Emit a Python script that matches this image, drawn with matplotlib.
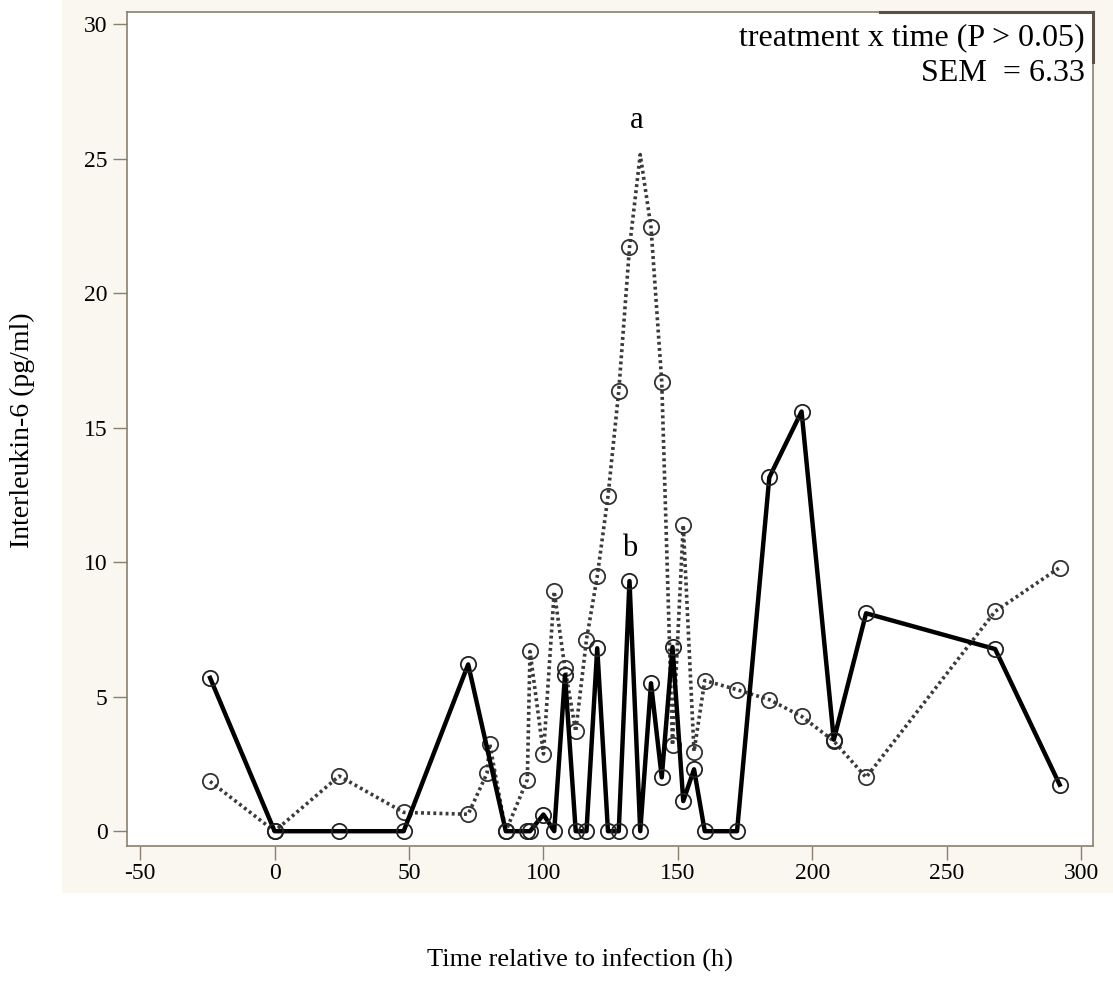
import matplotlib
matplotlib.use('Agg')
import matplotlib.pyplot as plt
from matplotlib.patches import Rectangle
from matplotlib.lines import Line2D

# ---- data ----
time_solid = [-24, 0, 24, 48, 72, 86, 94, 95, 100, 104, 108, 112, 116, 120, 124,
              128, 132, 136, 140, 144, 148, 152, 156, 160, 172, 184, 196, 208, 220, 268, 292]
il6_solid = [5.7, 0, 0, 0, 6.2, 0, 0, 0, 0.62, 0, 5.8, 0, 0, 6.8, 0,
             0, 9.3, 0, 5.5, 2.0, 6.85, 1.12, 2.3, 0, 0, 13.15, 15.6, 3.4, 8.1, 6.77, 1.73]

time_dotted = [-24, 0, 24, 48, 72, 79, 80, 86, 94, 95, 100, 104, 108, 112, 116, 120, 124,
               128, 132, 136, 140, 144, 148, 152, 156, 160, 172, 184, 196, 208, 220, 268, 292]
il6_dotted = [1.85, 0, 2.05, 0.7, 0.63, 2.15, 3.25, 0, 1.92, 6.68, 2.87, 8.91, 6.05, 3.71, 7.12, 9.47, 12.45,
              16.35, 21.7, 25.15, 22.45, 16.7, 3.2, 11.38, 2.96, 5.6, 5.26, 4.89, 4.27, 3.35, 2.0, 8.17, 9.8]

x_ticks = [-50, 0, 50, 100, 150, 200, 250, 300]
y_ticks = [0, 5, 10, 15, 20, 25, 30]
annot_lines = ["treatment x time (P > 0.05)", "SEM  = 6.33"]
letters = [("a", 134.7, 26.4), ("b", 132, 10.5)]

W, H = 1113, 1002
fig = plt.figure(figsize=(W / 100, H / 100), dpi=100)
fig.patch.set_facecolor('white')

serif = ['Liberation Serif', 'DejaVu Serif']
beige = '#faf7f0'
frame_col = '#8a8070'

# beige panel behind the plot
fig.patches.append(Rectangle((62 / W, 1 - 893 / H), 1 - 62 / W, 893 / H,
                             transform=fig.transFigure, facecolor=beige,
                             edgecolor='none', zorder=0))

L, R, T, B = 127, 1093, 12, 846
ax = fig.add_axes([L / W, 1 - B / H, (R - L) / W, (B - T) / H])
ax.set_facecolor('white')
ax.set_zorder(1)

ax.set_xlim(-54.9, 304.4)
ax.set_ylim(-0.55, 30.45)

mark_dotted = [i for i in range(len(time_dotted)) if i != 19]

ax.plot(time_dotted, il6_dotted, linestyle=(0, (0.8, 0.9)), color='#3a3a3a',
        linewidth=2.6, marker='o', markersize=11, markerfacecolor='none',
        markeredgecolor='#333333', markeredgewidth=1.3, markevery=mark_dotted, zorder=2)
ax.plot(time_solid, il6_solid, linestyle='-', color='black', linewidth=3.2,
        marker='o', markersize=11, markerfacecolor='none',
        markeredgecolor='#222222', markeredgewidth=1.3, zorder=3)

ax.set_xticks(x_ticks)
ax.set_yticks(y_ticks)
ax.set_xticklabels([str(v) for v in x_ticks], fontfamily=serif, fontsize=17)
ax.set_yticklabels([str(v) for v in y_ticks], fontfamily=serif, fontsize=17)
ax.tick_params(axis='both', direction='out', length=10, width=1.0, color=frame_col,
               labelcolor='black', pad=4)
ax.tick_params(axis='x', pad=2)

for s in ax.spines.values():
    s.set_color(frame_col)
    s.set_linewidth(1.2)

# darker top/right edge near annotation box
ax.add_line(Line2D([(880 - L) / (R - L), 1.0], [1.0, 1.0], transform=ax.transAxes,
                   color='#5a5045', linewidth=2.2, clip_on=False, zorder=5))
ax.add_line(Line2D([1.0, 1.0], [1.0, 1 - (62 - T) / (B - T)], transform=ax.transAxes,
                   color='#5a5045', linewidth=2.2, clip_on=False, zorder=5))

ax.text(0.9917, 0.986, annot_lines[0] + "\n" + annot_lines[1], transform=ax.transAxes,
        ha='right', va='top', fontfamily=serif, fontsize=23, linespacing=1.28)

for txt, xv, yv in letters:
    ax.text(xv, yv, txt, ha='center', va='center', fontfamily=serif, fontsize=22)

fig.text(22 / W, 1 - 430 / H, "Interleukin-6 (pg/ml)", rotation=90, ha='center',
         va='center', fontfamily=serif, fontsize=20)
fig.text(580 / W, 1 - 960 / H, "Time relative to infection (h)", ha='center',
         va='center', fontfamily=serif, fontsize=19)

fig.savefig('out.png', dpi=100, facecolor='white')
